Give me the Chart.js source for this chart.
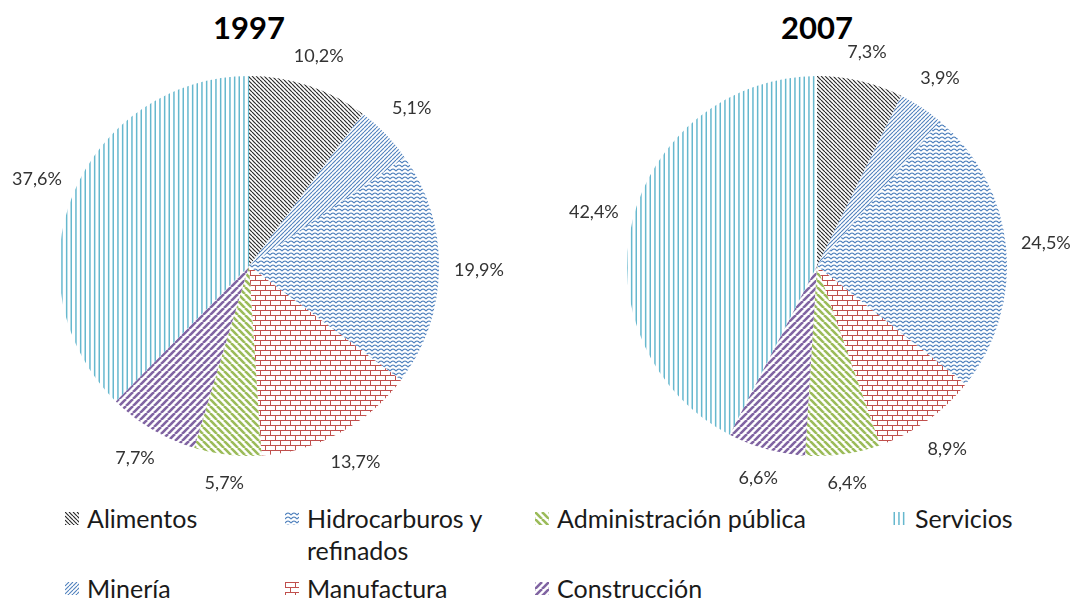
<!DOCTYPE html>
<html>
<head>
<meta charset="utf-8">
<script src="https://cdn.jsdelivr.net/npm/chart.js@4.4.0/dist/chart.umd.min.js"></script>
<style>
  body { margin: 0; background: #fff; font-family: Lato, "Open Sans", sans-serif; }
  #page { position: relative; width: 1073px; height: 603px; overflow: hidden; }
  canvas.pie { position: absolute; top: 0; }
  .title { position: absolute; top: 8px; width: 200px; text-align: center; font-weight: bold; font-size: 31px; color: #000; }
  .item { position: absolute; display: flex; align-items: flex-start; font-size: 25px; line-height: 32px; color: #1a1a1a; }
  .item canvas { margin-top: 10px; margin-right: 8px; flex: none; }
</style>
</head>
<body>
<div id="page">
  <div class="title" style="left:149px">1997</div>
  <div class="title" style="left:717px">2007</div>
  <canvas id="pie1997" class="pie" width="536" height="500" style="left:0"></canvas>
  <canvas id="pie2007" class="pie" width="536" height="500" style="left:537px"></canvas>
  <div id="legend"></div>
</div>
<script>
// sectores
const categories = ["Alimentos", "Minería", "Hidrocarburos y refinados", "Manufactura",
                    "Administración pública", "Construcción", "Servicios"];
// participación en %
const values1997 = [10.2, 5.1, 19.9, 13.7, 5.7, 7.7, 37.6];
const values2007 = [7.3, 3.9, 24.5, 8.9, 6.4, 6.6, 42.4];

// tramas tipo excel
const patternKinds = ["dnDiag", "upDiag", "wave", "brick", "wdDnDiag", "wdUpDiag", "vert"];
const patternColors = ["#2b2b2b", "#4f81bd", "#4f81bd", "#c0504d", "#9bbb59", "#8064a2", "#4bacc6"];

function makeTile(kind, color) {
    const c = document.createElement("canvas");
    const x = c.getContext("2d");
    let s = 4;
    if (kind === "wave") { c.width = 6; c.height = 4; }
    else if (kind === "brick") { c.width = 10; c.height = 10; }
    else if (kind === "wdDnDiag" || kind === "wdUpDiag") { s = 7; c.width = s; c.height = s; }
    else if (kind === "vert") { c.width = 14; c.height = 4; }
    else { c.width = s; c.height = s; }
    x.strokeStyle = color;
    x.fillStyle = color;

    if (kind === "dnDiag" || kind === "wdDnDiag") {
        x.lineWidth = kind === "dnDiag" ? 1.2 : 2.6;
        for (let k = -1; k <= 1; k++) {
            x.beginPath(); x.moveTo(k * s, 0); x.lineTo(k * s + s, s); x.stroke();
        }
    } else if (kind === "upDiag" || kind === "wdUpDiag") {
        x.lineWidth = kind === "upDiag" ? 1.1 : 2.6;
        for (let k = -1; k <= 1; k++) {
            x.beginPath(); x.moveTo(k * s, s); x.lineTo(k * s + s, 0); x.stroke();
        }
    } else if (kind === "wave") {
        x.lineWidth = 1.1;
        x.beginPath(); x.moveTo(0, 3); x.lineTo(1.5, 1.5); x.lineTo(3, 1); x.lineTo(4.5, 1.5); x.lineTo(6, 3); x.stroke();
    } else if (kind === "brick") {
        x.fillRect(0, 0, 10, 1);
        x.fillRect(0, 5, 10, 1);
        x.fillRect(0, 0, 1, 5);
        x.fillRect(5, 5, 1, 5);
    } else if (kind === "vert") {
        x.globalAlpha = 0.85;
        [0.5, 5.2, 9.9].forEach(px => x.fillRect(px, 0, 1.5, 4));
    }
    return c;
}

const tiles = patternKinds.map((k, i) => makeTile(k, patternColors[i]));

function patternsFor(ctx) {
    return tiles.map(t => ctx.createPattern(t, "repeat"));
}

// etiquetas de porcentaje fuera del pastel
const outsideLabels = {
    id: "outsideLabels",
    afterDatasetsDraw(chart) {
        const ctx = chart.ctx;
        const data = chart.data.datasets[0].data;
        const meta = chart.getDatasetMeta(0);
        ctx.save();
        ctx.font = "18px Lato, 'Open Sans', sans-serif";
        ctx.fillStyle = "#333";
        ctx.textAlign = "center";
        ctx.textBaseline = "middle";
        meta.data.forEach((arc, i) => {
            const p = arc.getProps(["x", "y", "startAngle", "endAngle", "outerRadius"], true);
            const a = (p.startAngle + p.endAngle) / 2;
            const d = p.outerRadius + 27 + 13 * Math.abs(Math.cos(a));
            const txt = data[i].toFixed(1).replace(".", ",") + "%";
            ctx.fillText(txt, p.x + d * Math.cos(a), p.y + d * Math.sin(a));
        });
        ctx.restore();
    }
};

function makePie(id, values, padding) {
    const ctx = document.getElementById(id).getContext("2d");
    return new Chart(ctx, {
        type: "pie",
        data: {
            labels: categories,
            datasets: [{
                data: values,
                backgroundColor: patternsFor(ctx),
                borderWidth: 0,
                hoverOffset: 0
            }]
        },
        options: {
            responsive: false,
            animation: false,
            devicePixelRatio: 1,
            layout: { padding: padding },
            plugins: {
                legend: { display: false },
                tooltip: { enabled: false }
            }
        },
        plugins: [outsideLabels]
    });
}

makePie("pie1997", values1997, { left: 59, right: 97, top: 76, bottom: 44 });
makePie("pie2007", values2007, { left: 90, right: 66, top: 76, bottom: 44 });

// leyenda: 2 filas, orden por columnas
const colLeft = [65, 285, 535, 893];
const rowTop = [502, 572];
const legend = document.getElementById("legend");
categories.forEach((name, i) => {
    const col = Math.floor(i / 2), row = i % 2;
    const item = document.createElement("div");
    item.className = "item";
    item.style.left = colLeft[col] + "px";
    item.style.top = rowTop[row] + "px";
    const icon = document.createElement("canvas");
    icon.width = 14; icon.height = 13;
    const ic = icon.getContext("2d");
    ic.fillStyle = ic.createPattern(tiles[i], "repeat");
    ic.fillRect(0, 0, 14, 13);
    const label = document.createElement("span");
    label.textContent = name;
    if (col === 1 && row === 0) label.style.width = "200px";
    item.appendChild(icon);
    item.appendChild(label);
    legend.appendChild(item);
});
</script>
</body>
</html>
